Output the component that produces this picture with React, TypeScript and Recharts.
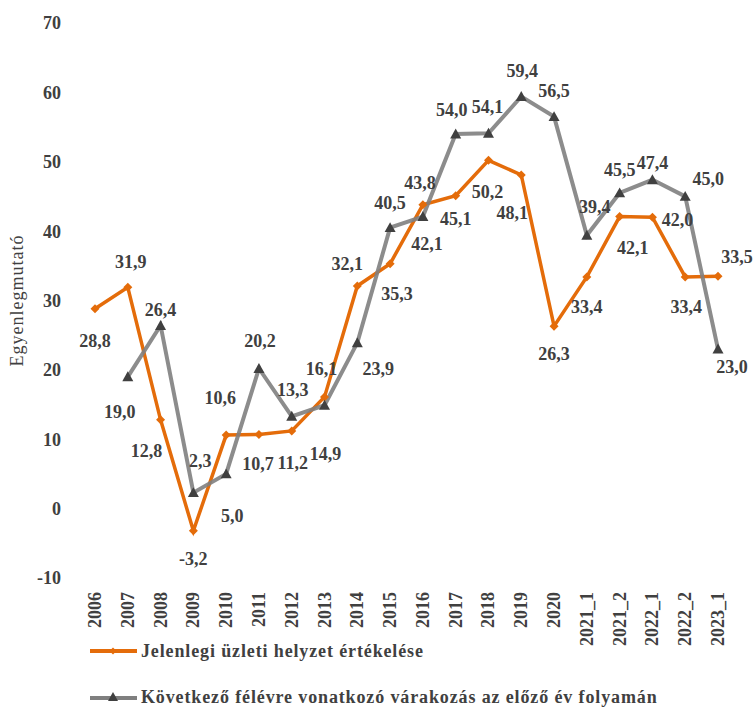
import { LineChart, Line, XAxis, YAxis, LabelList } from 'recharts'

// categories on the x axis
const periods = [
  '2006', '2007', '2008', '2009', '2010', '2011', '2012', '2013', '2014', '2015',
  '2016', '2017', '2018', '2019', '2020', '2021_1', '2021_2', '2022_1', '2022_2', '2023_1',
]

// Jelenlegi üzleti helyzet értékelése
const currentValues = [
  28.8, 31.9, 12.8, -3.2, 10.6, 10.7, 11.2, 16.1, 32.1, 35.3,
  43.8, 45.1, 50.2, 48.1, 26.3, 33.4, 42.1, 42.0, 33.4, 33.5,
]

// Következő félévre vonatkozó várakozás az előző év folyamán
const expectedValues = [
  null, 19.0, 26.4, 2.3, 5.0, 20.2, 13.3, 14.9, 23.9, 40.5,
  42.1, 54.0, 54.1, 59.4, 56.5, 39.4, 45.5, 47.4, 45.0, 23.0,
]

const yTicks = [-10, 0, 10, 20, 30, 40, 50, 60, 70]

const currentName = 'Jelenlegi üzleti helyzet értékelése'
const expectedName = 'Következő félévre vonatkozó várakozás az előző év folyamán'

// label placement (dx, dy from the point), like the hand-moved excel labels
const currentLabelPos = [
  [0, 32], [3, -25], [-14, 31], [0, 28], [-6, -37], [-1, 30], [1, 32], [-3, -28], [-10, -22], [7, 30],
  [-3, -22], [0, 23], [-1, 32], [-9, 38], [0, 28], [0, 30], [13, 31], [25, 3], [1, 30], [19, -19],
]
const expectedLabelPos = [
  [0, 0], [-8, 35], [0, -15], [7, -32], [6, 42], [1, -27], [1, -26], [1, 49], [21, 26], [0, -25],
  [4, 27], [-4, -24], [-1, -26], [1, -26], [0, -26], [8, -28], [0, -23], [0, -17], [23, -17], [14, 18],
]

const FONT = "'Liberation Serif', 'Times New Roman', serif"
const ORANGE = '#E46C0A'
const GRAY = '#7F7F7F'
const DARK = '#404040'

const data = periods.map((p, i) => ({
  period: p,
  current: currentValues[i],
  expected: expectedValues[i],
}))

const fmt = (v: number) => v.toFixed(1).replace('.', ',')

const Diamond = ({ cx, cy, size = 4.5 }: any) => {
  if (cx == null || cy == null) return null
  return (
    <path
      d={`M${cx},${cy - size} L${cx + size},${cy} L${cx},${cy + size} L${cx - size},${cy} Z`}
      fill={ORANGE}
    />
  )
}

const Triangle = ({ cx, cy, size = 5.5 }: any) => {
  if (cx == null || cy == null) return null
  return (
    <path
      d={`M${cx},${cy - size} L${cx + size},${cy + size * 0.8} L${cx - size},${cy + size * 0.8} Z`}
      fill={DARK}
    />
  )
}

const makeLabel = (pos: number[][]) => (props: any) => {
  const { x, y, value, index } = props
  if (value == null || x == null || y == null) return null
  const [dx, dy] = pos[index] || [0, -20]
  return (
    <text
      x={x + dx}
      y={y + dy}
      textAnchor="middle"
      dominantBaseline="central"
      fill={DARK}
      fontFamily={FONT}
      fontWeight="bold"
      fontSize={18}
    >
      {fmt(value)}
    </text>
  )
}

const XTick = ({ x, y, payload }: any) => (
  <text
    x={x}
    y={y}
    transform={`rotate(-90, ${x}, ${y})`}
    textAnchor="end"
    dominantBaseline="central"
    fill={DARK}
    fontFamily={FONT}
    fontWeight="bold"
    fontSize={18}
  >
    {payload.value}
  </text>
)

const YTitle = ({ viewBox }: any) => {
  const cx = 17
  const cy = viewBox ? viewBox.y + viewBox.height / 2 : 300
  return (
    <text
      x={cx}
      y={cy}
      transform={`rotate(-90, ${cx}, ${cy})`}
      textAnchor="middle"
      dominantBaseline="central"
      fill={DARK}
      fontFamily={FONT}
      fontSize={18}
      letterSpacing={1}
    >
      Egyenlegmutató
    </text>
  )
}

export default function App() {
  // fixed so the page never gets scrollbars
  return (
    <div style={{ position: 'fixed', left: 0, top: 0, width: 754, height: 708, background: '#fff' }}>
      <LineChart
        width={754}
        height={648}
        data={data}
        margin={{ top: 23, right: 20, bottom: 0, left: 9 }}
      >
        <XAxis
          dataKey="period"
          axisLine={false}
          tickLine={false}
          tickSize={0}
          tickMargin={14}
          interval={0}
          height={70}
          padding={{ left: 16, right: 16 }}
          tick={<XTick />}
        />
        <YAxis
          domain={[-10, 70]}
          ticks={yTicks}
          axisLine={false}
          tickLine={false}
          tickSize={0}
          tickMargin={18}
          width={70}
          tick={{ fill: DARK, fontFamily: FONT, fontWeight: 'bold', fontSize: 18 }}
          label={<YTitle />}
        />
        <Line
          dataKey="current"
          name={currentName}
          stroke={ORANGE}
          strokeWidth={3.5}
          dot={<Diamond />}
          activeDot={false}
          isAnimationActive={false}
        >
          <LabelList dataKey="current" content={makeLabel(currentLabelPos)} />
        </Line>
        <Line
          dataKey="expected"
          name={expectedName}
          stroke={GRAY}
          strokeOpacity={0.9}
          strokeWidth={4}
          dot={<Triangle />}
          activeDot={false}
          isAnimationActive={false}
        >
          <LabelList dataKey="expected" content={makeLabel(expectedLabelPos)} />
        </Line>
      </LineChart>
      <svg
        width={754}
        height={92}
        style={{ position: 'absolute', left: 0, top: 616 }}
      >
        <line x1={90} x2={137} y1={35} y2={35} stroke={ORANGE} strokeWidth={4} />
        <Diamond cx={113} cy={35} size={3.5} />
        <text x={141} y={35} dominantBaseline="central" fill={DARK} fontFamily={FONT} fontWeight="bold" fontSize={18} letterSpacing={0.87}>
          {currentName}
        </text>
        <line x1={90} x2={137} y1={82} y2={82} stroke={GRAY} strokeWidth={4} />
        <Triangle cx={113} cy={81} size={5} />
        <text x={141} y={81} dominantBaseline="central" fill={DARK} fontFamily={FONT} fontWeight="bold" fontSize={18} letterSpacing={0.87}>
          {expectedName}
        </text>
      </svg>
    </div>
  )
}
